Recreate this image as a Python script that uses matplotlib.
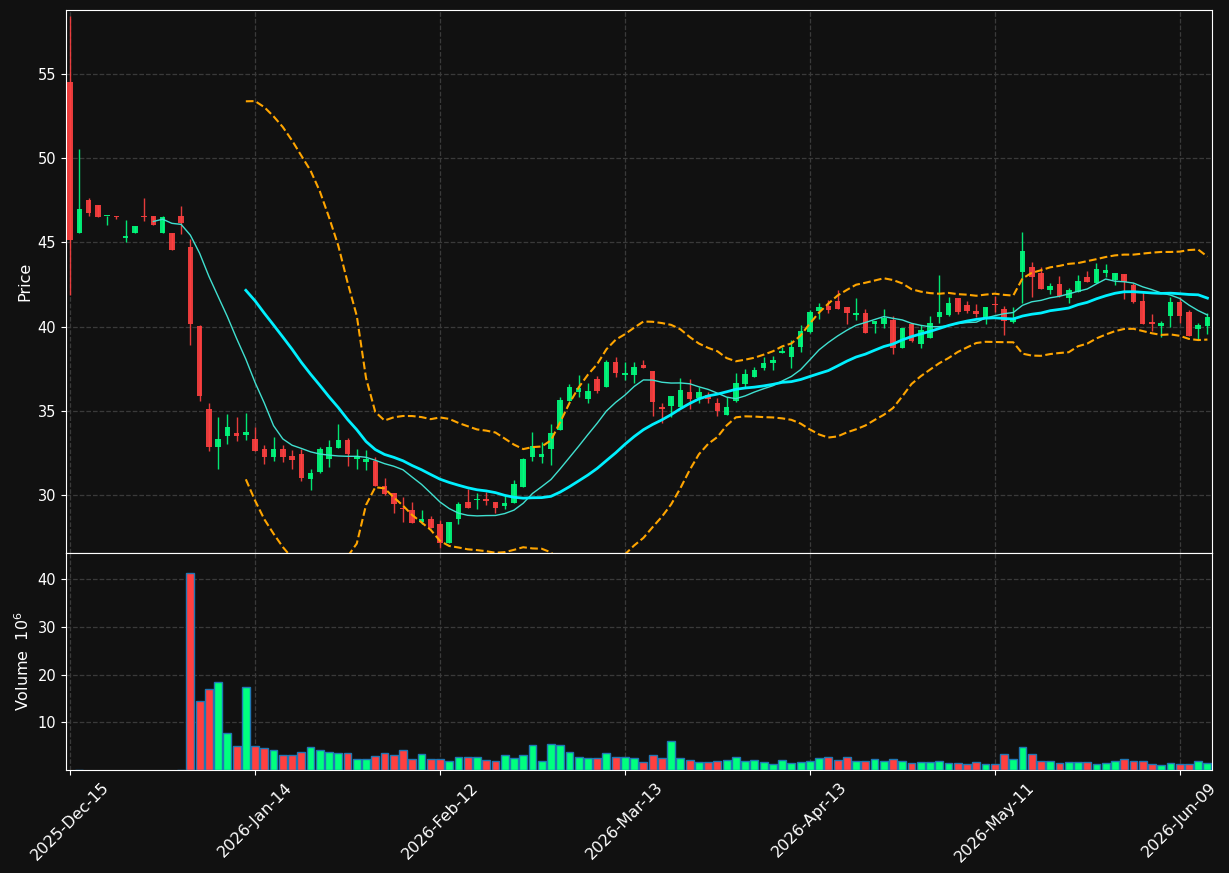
import matplotlib
matplotlib.use('Agg')
import matplotlib.pyplot as plt
import numpy as np
import pandas as pd

# US market holidays inside the window
holidays = ['2025-12-25', '2026-01-01', '2026-01-19', '2026-02-16',
            '2026-04-03', '2026-05-25']

opens = [54.52, 45.53, 47.51, 47.22, 46.55, 46.56, 45.26, 45.53, 46.58, 46.56,
         45.53, 45.55, 46.56, 44.73, 40.05, 35.12, 32.89, 33.53, 33.70, 33.59,
         33.35, 32.75, 32.30, 32.75, 32.34, 32.45, 30.99, 31.40, 32.17, 32.83,
         33.26, 32.13, 32.00, 32.05, 30.53, 30.12, 29.25, 29.13, 28.44, 28.59,
         28.30, 27.15, 28.57, 29.58, 29.70, 29.78, 29.58, 29.37, 29.52, 30.51,
         32.25, 32.29, 32.77, 33.89, 35.61, 36.15, 35.73, 36.90, 36.44, 37.91,
         37.15, 37.13, 37.73, 37.37, 35.25, 35.32, 35.26, 36.13, 35.79, 35.93,
         35.45, 34.74, 35.61, 36.58, 37.04, 37.57, 37.83, 38.46, 38.22, 38.82,
         39.69, 40.95, 41.23, 41.52, 41.17, 40.71, 40.81, 40.18, 40.18, 40.40,
         38.72, 40.16, 38.99, 39.35, 40.57, 40.69, 41.70, 41.29, 40.91, 40.49,
         41.33, 41.05, 40.30, 43.26, 43.52, 43.21, 42.18, 42.53, 41.72, 42.08,
         42.93, 42.61, 43.21, 42.77, 43.13, 42.47, 41.52, 40.28, 40.04, 40.65,
         41.46, 40.87, 39.88, 40.06]
highs = [58.41, 50.54, 47.63, 47.22, 46.58, 46.56, 46.33, 45.98, 47.63, 46.56,
         46.56, 45.55, 47.14, 45.18, 40.10, 35.45, 34.62, 34.81, 34.62, 34.91,
         34.05, 32.97, 33.43, 33.00, 32.70, 32.73, 31.54, 32.88, 33.26, 34.25,
         33.40, 32.73, 32.69, 32.29, 31.01, 30.12, 29.92, 29.62, 29.11, 28.79,
         28.51, 28.44, 29.58, 30.37, 30.12, 30.18, 29.58, 29.96, 30.91, 32.19,
         33.77, 33.14, 34.23, 35.85, 36.58, 37.13, 36.64, 37.10, 38.02, 38.22,
         37.91, 37.89, 38.02, 37.40, 35.46, 35.89, 36.94, 36.88, 36.40, 36.15,
         35.79, 35.85, 37.23, 37.49, 37.59, 38.22, 38.26, 38.81, 39.21, 40.08,
         40.99, 41.39, 41.58, 42.18, 41.17, 41.68, 41.03, 40.34, 41.03, 40.65,
         39.92, 40.16, 40.10, 40.63, 43.05, 41.74, 41.70, 41.50, 41.35, 41.17,
         41.82, 41.23, 41.19, 45.60, 43.86, 43.56, 42.57, 43.01, 42.30, 43.05,
         43.32, 43.80, 43.72, 43.19, 43.13, 42.57, 42.08, 40.73, 40.32, 41.78,
         41.78, 40.99, 40.24, 40.79]
lows = [41.88, 45.53, 46.54, 46.52, 46.05, 46.37, 45.01, 45.53, 46.29, 46.04,
        45.53, 44.52, 45.49, 38.89, 35.57, 32.65, 31.57, 33.02, 33.22, 33.26,
        32.65, 31.86, 32.03, 31.99, 31.57, 30.85, 30.31, 31.30, 31.66, 32.83,
        31.74, 31.54, 31.50, 30.57, 30.02, 28.93, 28.44, 28.38, 28.30, 28.08,
        26.85, 27.15, 28.30, 29.27, 29.21, 29.42, 28.93, 29.17, 29.52, 30.51,
        32.03, 31.90, 31.80, 33.89, 35.61, 35.85, 35.50, 36.05, 36.44, 37.04,
        36.84, 36.64, 37.57, 34.72, 34.27, 34.66, 35.26, 35.10, 35.49, 35.45,
        34.72, 34.74, 35.55, 36.44, 37.04, 37.43, 37.43, 38.46, 37.53, 38.48,
        39.61, 40.44, 40.79, 41.05, 40.14, 40.40, 39.65, 39.60, 39.94, 38.36,
        38.72, 39.11, 38.76, 39.35, 40.24, 40.63, 40.73, 40.79, 40.59, 40.14,
        40.85, 39.51, 40.20, 41.39, 41.78, 42.24, 41.94, 41.74, 41.39, 42.08,
        42.65, 42.61, 42.97, 42.45, 41.66, 41.38, 40.18, 39.76, 39.41, 39.96,
        40.24, 39.47, 39.21, 39.57]
closes = [45.16, 46.97, 46.77, 46.52, 46.58, 46.52, 45.35, 45.98, 46.52, 46.04,
          46.50, 44.52, 46.15, 40.13, 35.86, 32.89, 33.35, 34.05, 33.53, 33.76,
          32.65, 32.30, 32.75, 32.30, 32.11, 31.01, 31.32, 32.75, 32.87, 33.26,
          32.45, 32.29, 32.17, 30.57, 30.08, 29.47, 29.21, 28.38, 28.61, 28.08,
          27.15, 28.40, 29.47, 29.27, 29.74, 29.66, 29.27, 29.52, 30.65, 32.15,
          32.94, 32.45, 33.70, 35.65, 36.42, 36.37, 36.19, 36.21, 37.91, 37.27,
          37.23, 37.61, 37.57, 35.55, 35.14, 35.89, 36.25, 35.73, 36.11, 35.73,
          35.02, 35.24, 36.64, 37.19, 37.43, 37.85, 38.02, 38.56, 38.79, 39.75,
          40.87, 41.17, 40.99, 41.05, 40.83, 40.81, 39.65, 40.34, 40.53, 38.72,
          39.92, 39.15, 39.80, 40.22, 40.87, 41.40, 40.89, 40.95, 40.75, 41.17,
          41.29, 40.36, 40.50, 44.49, 42.97, 42.24, 42.42, 41.84, 42.18, 42.71,
          42.65, 43.40, 43.36, 43.19, 42.65, 41.48, 40.18, 40.18, 40.20, 41.46,
          40.65, 39.47, 40.10, 40.57]
# volume in millions, None = no trades recorded
volumes = [None, 0.08, None, None, None, None, None, None, None, None,
           None, None, 0.08, 41.26, 14.54, 16.93, 18.53, 7.69, 4.96, 17.34,
           4.96, 4.54, 4.13, 3.08, 3.08, 3.71, 4.75, 4.13, 3.71, 3.50,
           3.50, 2.38, 2.38, 2.87, 3.50, 3.08, 4.13, 2.24, 3.29, 2.24,
           2.24, 1.96, 2.66, 2.66, 2.66, 2.03, 1.82, 3.08, 2.45, 3.08,
           5.17, 1.96, 5.38, 5.17, 3.71, 2.66, 2.45, 2.45, 3.50, 2.80,
           2.80, 2.45, 1.61, 3.08, 2.45, 6.01, 2.45, 2.03, 1.61, 1.61,
           1.82, 2.03, 2.66, 1.82, 2.03, 1.61, 1.19, 2.03, 1.40, 1.61,
           1.82, 2.45, 2.66, 2.03, 2.66, 1.82, 1.82, 2.24, 1.82, 2.24,
           1.82, 1.40, 1.61, 1.61, 1.82, 1.40, 1.40, 1.19, 1.61, 1.19,
           1.19, 3.29, 2.24, 4.75, 3.29, 1.82, 1.82, 1.40, 1.61, 1.61,
           1.61, 1.19, 1.40, 1.82, 2.24, 1.82, 1.82, 1.19, 0.98, 1.40,
           1.19, 1.19, 1.82, 1.40]

BG = '#111111'
UP = '#00ff7f'
DOWN = '#ff4040'


def main():
    dates = pd.bdate_range('2025-12-15', periods=len(closes), freq='C',
                           holidays=holidays)
    df = pd.DataFrame({'open': opens, 'high': highs, 'low': lows,
                       'close': closes,
                       'volume': [np.nan if v is None else v for v in volumes]},
                      index=dates)
    x = np.arange(len(df))
    up = df['close'] >= df['open']
    colors = np.where(up, UP, DOWN)

    ma10 = df['close'].rolling(10).mean()
    ma20 = df['close'].rolling(20).mean()
    sd20 = df['close'].rolling(20).std(ddof=0)

    fig = plt.figure(figsize=(12.29, 8.73), dpi=100, facecolor=BG)
    ax0 = fig.add_axes([0.0537, 0.3666, 0.9325, 0.6219])
    ax1 = fig.add_axes([0.0537, 0.118, 0.9325, 0.2486], sharex=ax0)

    for ax in (ax0, ax1):
        ax.set_facecolor(BG)
        for s in ax.spines.values():
            s.set_color('white')
        ax.tick_params(colors='white', labelsize=10.5)
        ax.grid(True, linestyle='--', color='#3a3a3a', linewidth=0.9)
        ax.set_axisbelow(True)

    # candles
    ax0.vlines(x, df['low'], df['high'], colors=colors, linewidth=1,
               alpha=0.9, zorder=2)
    body = (df['close'] - df['open']).abs().clip(lower=0.06)
    ax0.bar(x, body, width=0.6, bottom=df[['open', 'close']].min(axis=1),
            color=colors, alpha=0.9, zorder=3)

    ax0.plot(x, ma10, color='#40e0d0', linewidth=1, zorder=4)
    ax0.plot(x, ma20, color='#00f0ff', linewidth=2, zorder=4)
    ax0.plot(x, ma20 + 2 * sd20, color='orange', linestyle='--',
             linewidth=1.5, zorder=4)
    ax0.plot(x, ma20 - 2 * sd20, color='orange', linestyle='--',
             linewidth=1.5, zorder=4)

    ax0.set_ylim(26.58, 58.78)
    ax0.set_yticks([30, 35, 40, 45, 50, 55])
    ax0.set_ylabel('Price', color='white', fontsize=11.5, labelpad=4)
    ax0.tick_params(axis='x', labelbottom=False, length=0)

    ax1.bar(x, df['volume'], width=0.85, color=colors, edgecolor='#1f77b4',
            linewidth=1, zorder=3)
    ax1.set_ylim(0, 45.5)
    ax1.set_yticks([10, 20, 30, 40])
    ax1.set_ylabel('Volume  $10^{6}$', color='white', fontsize=11.5,
                   labelpad=4)

    ticks = list(range(0, len(df), 20))
    ax1.set_xticks(ticks)
    ax1.set_xticklabels([dates[i].strftime('%Y-%b-%d') for i in ticks],
                        rotation=45, ha='center', fontsize=11.5)
    ax1.set_xlim(-0.45, len(df) - 0.5)

    fig.savefig('out.png', dpi=100, facecolor=BG)


if __name__ == "__main__":
    main()
